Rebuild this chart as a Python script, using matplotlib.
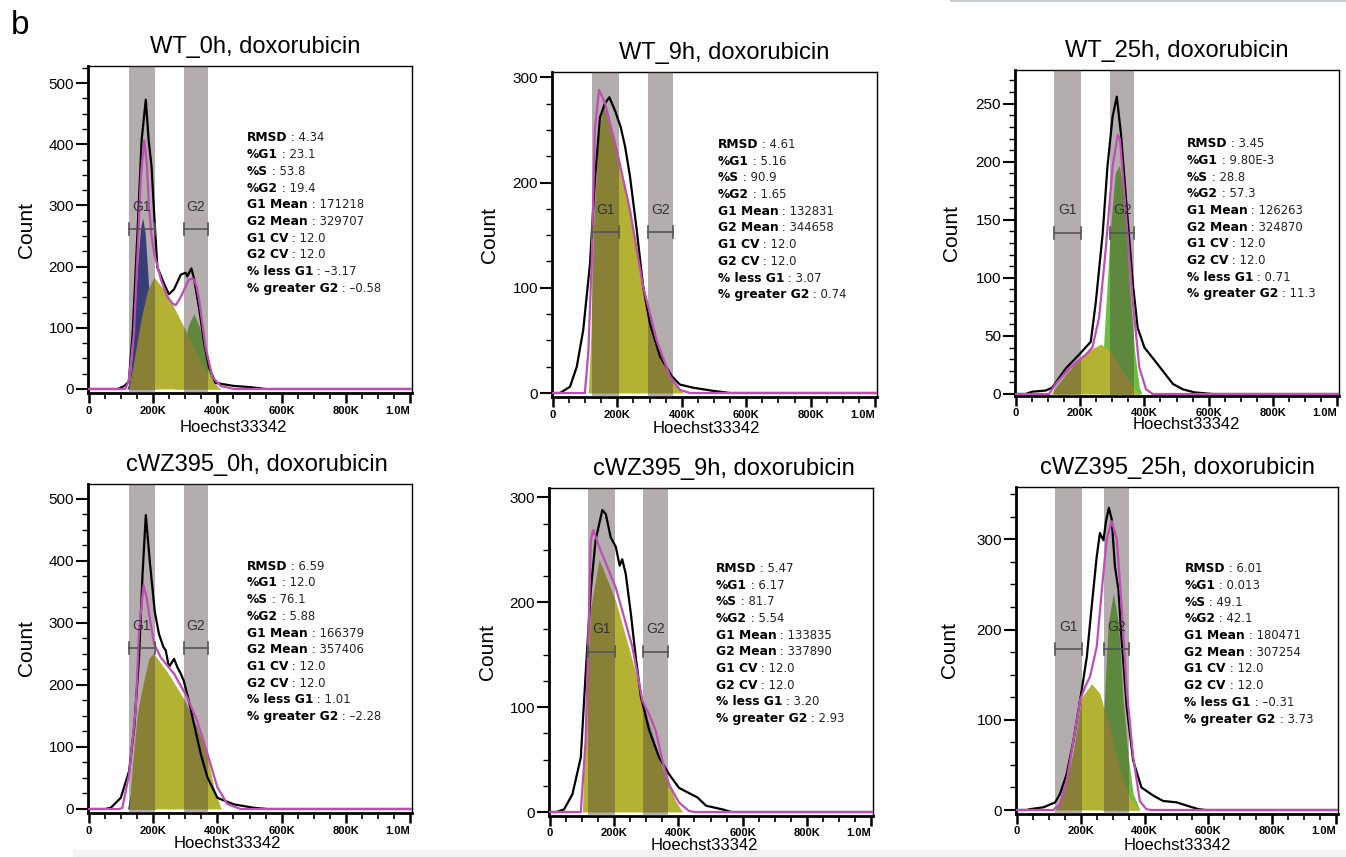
import matplotlib.pyplot as plt
import numpy as np
from matplotlib.ticker import MultipleLocator, FuncFormatter
from matplotlib.patches import Rectangle

plt.rcParams['font.family'] = ['Liberation Sans', 'DejaVu Sans']

# ---- data (x in thousands of Hoechst33342 units, y = count) ----
TITLES = ["WT_0h, doxorubicin", "WT_9h, doxorubicin", "WT_25h, doxorubicin",
          "cWZ395_0h, doxorubicin", "cWZ395_9h, doxorubicin", "cWZ395_25h, doxorubicin"]

STAT_NAMES = ["RMSD", "%G1", "%S", "%G2", "G1 Mean", "G2 Mean",
              "G1 CV", "G2 CV", "% less G1", "% greater G2"]

# WT_0h
WT0_RAW = [(0, 0), (90, 0), (110, 5), (124, 12), (136, 90), (151, 254), (164, 407), (177, 473),
           (186, 406), (195, 363), (203, 287), (213, 199), (234, 172), (249, 155), (265, 163),
           (286, 187), (301, 190), (306, 184), (319, 197), (327, 181), (343, 132), (358, 77),
           (374, 35), (394, 10), (451, 5), (503, 3), (550, 0), (1006, 0)]
WT0_FIT = [(0, 0), (110, 0), (115, 2), (124, 14), (140, 90), (152, 230), (162, 350), (172, 407),
           (180, 370), (187, 297), (195, 250), (203, 222), (224, 179), (244, 151), (260, 140),
           (270, 137), (280, 145), (291, 156), (311, 179), (326, 180), (335, 168), (343, 146),
           (363, 69), (384, 20), (410, 5), (451, 0), (1006, 0)]
WT0_G1 = [(118, 0), (128, 15), (136, 62), (151, 199), (160, 260), (167, 280), (175, 255),
          (182, 199), (198, 62), (208, 0)]
WT0_S = [(124, 0), (140, 46), (161, 111), (182, 161), (203, 183), (244, 155), (296, 101),
         (348, 46), (389, 9), (410, 0)]
WT0_G2 = [(265, 0), (280, 20), (291, 57), (310, 105), (327, 123), (345, 100), (358, 68),
          (379, 25), (400, 3), (410, 0)]
WT0_STATS = ["4.34", "23.1", "53.8", "19.4", "171218", "329707", "12.0", "12.0", "–3.17", "–0.58"]

# WT_9h
WT9_RAW = [(0, 0), (22, 0), (53, 6), (74, 25), (94, 60), (115, 123), (130, 202), (146, 262),
           (161, 275), (175, 281), (193, 268), (210, 253), (224, 234), (239, 206), (260, 155),
           (280, 101), (301, 66), (332, 35), (369, 16), (394, 8), (436, 5), (498, 2), (550, 0),
           (1006, 0)]
WT9_FIT = [(0, 0), (99, 0), (110, 40), (120, 123), (130, 250), (143, 288), (161, 276),
           (198, 231), (239, 174), (280, 101), (322, 50), (363, 16), (394, 3), (425, 0), (1006, 0)]
WT9_G1 = []
WT9_S = [(110, 0), (118, 60), (126, 160), (140, 240), (156, 276), (198, 228), (239, 174),
         (280, 104), (322, 50), (363, 16), (405, 0)]
WT9_G2 = []
WT9_STATS = ["4.61", "5.16", "90.9", "1.65", "132831", "344658", "12.0", "12.0", "3.07", "0.74"]

# WT_25h
WT25_RAW = [(0, 0), (30, 0), (51, 2), (93, 3), (113, 5.5), (155, 22), (197, 34), (233, 45),
            (249, 80), (270, 138), (285, 196), (301, 239), (314, 256), (327, 224), (343, 167),
            (364, 95), (379, 57), (400, 40), (426, 31), (457, 20), (489, 8.6), (520, 4),
            (556, 1.4), (613, 0), (1006, 0)]
WT25_FIT = [(0, 0), (103, 0), (124, 9), (166, 22), (218, 34), (238, 40), (259, 66), (280, 126),
            (301, 196), (317, 223), (324, 219), (343, 153), (364, 80), (384, 23), (405, 4),
            (426, 0), (1006, 0)]
WT25_G1 = []
WT25_S = [(108, 0), (155, 17), (207, 33), (244, 40), (265, 43), (301, 35), (332, 20), (364, 6),
          (384, 0)]
WT25_G2 = [(265, 0), (275, 52), (293, 138), (309, 190), (322, 197), (338, 167), (353, 95),
           (369, 38), (384, 6), (392, 0)]
WT25_STATS = ["3.45", "9.80E-3", "28.8", "57.3", "126263", "324870", "12.0", "12.0", "0.71", "11.3"]

# cWZ395_0h
CW0_RAW = [(0, 0), (50, 0), (68, 2), (99, 18), (125, 61), (141, 132), (156, 245), (167, 380),
           (177, 474), (190, 396), (205, 318), (218, 282), (232, 261), (239, 256), (249, 229),
           (265, 242), (275, 229), (286, 218), (295, 207), (311, 175), (327, 137), (348, 89),
           (369, 51), (400, 18), (451, 7.5), (513, 2), (555, 0), (1006, 0)]
CW0_FIT = [(0, 0), (95, 0), (104, 2), (125, 56), (146, 164), (156, 288), (170, 361), (180, 340),
           (187, 315), (203, 266), (224, 244), (265, 218), (306, 180), (337, 142), (369, 89),
           (400, 35), (431, 8), (472, 0), (1006, 0)]
CW0_G1 = [(120, 0), (135, 40), (150, 130), (164, 187), (180, 130), (195, 45), (208, 0)]
CW0_S = [(125, 0), (136, 75), (151, 156), (172, 210), (187, 243), (201, 251), (244, 221),
         (295, 178), (337, 132), (369, 85), (389, 35), (410, 2), (415, 0)]
CW0_G2 = []
CW0_STATS = ["6.59", "12.0", "76.1", "5.88", "166379", "357406", "12.0", "12.0", "1.01", "–2.28"]

# cWZ395_9h
CW9_RAW = [(0, 0), (20, 0), (44, 2.5), (70, 17), (96, 52), (111, 131), (127, 211), (142, 259),
           (163, 288), (174, 284), (189, 262), (205, 253), (217, 235), (225, 241), (236, 227),
           (252, 189), (267, 148), (283, 110), (309, 78), (340, 52), (371, 36), (402, 23),
           (433, 18), (459, 14), (486, 6), (537, 2.5), (565, 0), (1006, 0)]
CW9_FIT = [(0, 0), (96, 0), (111, 68), (122, 195), (127, 259), (135, 269), (153, 253),
           (205, 214), (257, 157), (288, 106), (309, 93), (330, 77), (350, 49), (371, 26),
           (402, 9), (433, 1), (450, 0), (1006, 0)]
CW9_G1 = []
CW9_S = [(101, 0), (111, 100), (127, 195), (153, 241), (205, 201), (257, 144), (309, 84),
         (350, 42), (392, 10), (413, 0)]
CW9_G2 = []
CW9_STATS = ["5.47", "6.17", "81.7", "5.54", "133835", "337890", "12.0", "12.0", "3.20", "2.93"]

# cWZ395_25h
CW25_RAW = [(0, 0), (30, 0), (42, 1), (83, 3), (120, 8.5), (135, 18), (156, 40), (177, 77),
            (203, 133), (219, 170), (234, 225), (250, 281), (260, 307), (271, 299), (279, 320),
            (288, 335), (297, 322), (307, 270), (318, 244), (328, 188), (344, 114), (364, 55),
            (390, 25), (427, 16), (458, 10), (500, 8.5), (531, 5), (568, 1), (590, 0), (1006, 0)]
CW25_FIT = [(0, 0), (114, 0), (135, 7), (156, 33), (177, 77), (198, 122), (213, 136), (229, 148),
            (250, 181), (266, 244), (281, 300), (297, 320), (313, 300), (328, 225), (344, 133),
            (364, 59), (385, 10), (405, 1), (420, 0), (1006, 0)]
CW25_G1 = []
CW25_S = [(120, 0), (146, 18), (177, 66), (203, 125), (234, 140), (260, 129), (292, 88),
          (323, 44), (354, 14), (385, 0)]
CW25_G2 = [(266, 0), (273, 114), (286, 207), (302, 240), (318, 207), (333, 121), (349, 58),
           (364, 18), (385, 0)]
CW25_STATS = ["6.01", "0.013", "49.1", "42.1", "180471", "307254", "12.0", "12.0", "–0.31", "3.73"]

# gates (x range in thousands) and gate bar height (count)
GATE_G1 = [(124, 205), (122, 205), (120, 204), (124, 205), (120, 203), (120, 205)]
GATE_G2 = [(295, 370), (296, 372), (293, 369), (295, 370), (291, 368), (273, 351)]
GATE_BAR_Y = [262, 153, 139, 260, 153, 178]

RAW = [WT0_RAW, WT9_RAW, WT25_RAW, CW0_RAW, CW9_RAW, CW25_RAW]
FIT = [WT0_FIT, WT9_FIT, WT25_FIT, CW0_FIT, CW9_FIT, CW25_FIT]
G1 = [WT0_G1, WT9_G1, WT25_G1, CW0_G1, CW9_G1, CW25_G1]
S = [WT0_S, WT9_S, WT25_S, CW0_S, CW9_S, CW25_S]
G2 = [WT0_G2, WT9_G2, WT25_G2, CW0_G2, CW9_G2, CW25_G2]
STATS = [WT0_STATS, WT9_STATS, WT25_STATS, CW0_STATS, CW9_STATS, CW25_STATS]

# ---- layout (pixels) ----
W, H = 1346, 857
AX_BOX = [(88, 66, 412, 393), (552, 72, 877, 397), (1015, 70, 1339, 396),
          (88, 484, 412, 813), (549, 488, 873, 816), (1016, 487, 1338, 814)]
YMAX = [528, 305, 279, 524, 309, 358]
YSTEP = [100, 100, 50, 100, 100, 100]
YMINOR = [25, 25, 10, 25, 25, 25]
TITLE_X = [0.515, 0.53, 0.50, 0.52, 0.54, 0.50]
XLABEL_X = [0.45, 0.474, 0.53, 0.43, 0.48, 0.50]
XLABEL_DY = [34, 31, 29, 30, 29, 31]
COUNT_DX = [61, 62, 63, 61, 61, 66]
STAT_POS = [(0.49, 0.78), (0.51, 0.777), (0.53, 0.774), (0.49, 0.75), (0.514, 0.755), (0.523, 0.75)]

C_G1 = '#2a40a0'
C_S = '#b4b232'
C_G2 = '#6cbf3e'
C_FIT = '#c24cb6'
C_BAND = '#4b3c3c'

fig = plt.figure(figsize=(W / 100, H / 100), dpi=100)


def xfmt(v, _):
    if v == 0:
        return "0"
    if v >= 1000:
        return "1.0M"
    return f"{int(v)}K"


def fill_curve(ax, pts, color, z):
    if not pts:
        return
    a = np.array(pts, dtype=float)
    ax.fill_between(a[:, 0], 0, a[:, 1], color=color, lw=0, zorder=z)


for i in range(6):
    l, t, r, b = AX_BOX[i]
    w, h = r - l, b - t
    ax = fig.add_axes([l / W, 1 - b / H, w / W, h / H])
    ymax = YMAX[i]
    off = 2 if i == 2 else 4
    ymin = -off * ymax / (h - off)
    ax.set_xlim(-3, 1006)
    ax.set_ylim(ymin, ymax)

    # model components
    fill_curve(ax, G2[i], C_G2, 1)
    fill_curve(ax, G1[i], C_G1, 2)
    fill_curve(ax, S[i], C_S, 3)

    # gate bands
    for g in (GATE_G1[i], GATE_G2[i]):
        ax.axvspan(g[0], g[1], color=C_BAND, alpha=0.42, lw=0, zorder=4)

    raw = np.array(RAW[i], dtype=float)
    fit = np.array(FIT[i], dtype=float)
    ax.plot(raw[:, 0], raw[:, 1], color='black', lw=1.6, zorder=5)
    ax.plot(fit[:, 0], fit[:, 1], color=C_FIT, lw=1.6, zorder=6)

    # gate bars and labels
    cap = 6 * ymax / h
    for name, g in (("G1", GATE_G1[i]), ("G2", GATE_G2[i])):
        yb = GATE_BAR_Y[i]
        ax.plot([g[0], g[1]], [yb, yb], color='#555555', lw=1.2, zorder=7)
        ax.plot([g[0], g[0]], [yb - cap, yb + cap], color='#555555', lw=1.2, zorder=7)
        ax.plot([g[1], g[1]], [yb - cap, yb + cap], color='#555555', lw=1.2, zorder=7)
        ax.annotate(name, xy=((g[0] + g[1]) / 2, yb), xytext=(0, 16), textcoords='offset points',
                    ha='center', va='center', fontsize=10, color='#333333', zorder=8)

    # stats block
    sx, sy = STAT_POS[i]
    dy = 16.7 / h
    for k, (nm, val) in enumerate(zip(STAT_NAMES, STATS[i])):
        lab = ax.text(sx, sy - k * dy, nm, transform=ax.transAxes, fontsize=8.8,
                      fontweight='bold', family='DejaVu Sans', va='center', ha='left', zorder=9)
        ax.annotate(" : " + val, xy=(1, 0.5), xycoords=lab, va='center', ha='left',
                    fontsize=8.4, family='DejaVu Sans', color='#222222', zorder=9)

    # axes styling
    ax.xaxis.set_major_locator(MultipleLocator(200))
    ax.xaxis.set_minor_locator(MultipleLocator(50))
    ax.xaxis.set_major_formatter(FuncFormatter(xfmt))
    ax.yaxis.set_major_locator(MultipleLocator(YSTEP[i]))
    ax.yaxis.set_minor_locator(MultipleLocator(YMINOR[i]))
    ax.tick_params(axis='x', which='major', direction='out', length=7, width=1.8,
                   labelsize=8, pad=2)
    ax.tick_params(axis='x', which='minor', direction='out', length=4, width=1.2)
    ax.tick_params(axis='y', which='major', direction='out', length=9, width=1.5,
                   labelsize=11, pad=1)
    ax.tick_params(axis='y', which='minor', direction='out', length=4, width=1.0)
    ax.set_xticks([0, 200, 400, 600, 800, 1000])
    ax.set_yticks([v for v in ax.get_yticks() if 0 <= v <= ymax])
    xt = ax.get_xticklabels()
    for lbl in xt:
        lbl.set_fontweight('bold')
    xt[-1].set_horizontalalignment('right')
    ax.spines['left'].set_linewidth(2)
    ax.spines['bottom'].set_linewidth(2)
    ax.spines['top'].set_linewidth(1)
    ax.spines['right'].set_linewidth(1)

    ax.text(TITLE_X[i], 1 + 19 / h, TITLES[i], transform=ax.transAxes,
            ha='center', va='center', fontsize=17)
    ax.text(XLABEL_X[i], -XLABEL_DY[i] / h, "Hoechst33342", transform=ax.transAxes,
            ha='center', va='center', fontsize=12)
    ax.text(-COUNT_DX[i] / w, 0.5, "Count", transform=ax.transAxes, rotation=90,
            ha='center', va='center', fontsize=15)

fig.text(20 / W, 1 - 25 / H, "b", fontsize=24, ha='center', va='center')
# crop remnants of the source figure
fig.patches.append(Rectangle((950 / W, 1 - 2 / H), 396 / W, 2 / H, transform=fig.transFigure,
                             color='#c8cdd0', lw=0))
fig.patches.append(Rectangle((73 / W, 0), 1273 / W, 7 / H, transform=fig.transFigure,
                             color='#f2f3f5', lw=0))

fig.savefig("out.png", dpi=100)
